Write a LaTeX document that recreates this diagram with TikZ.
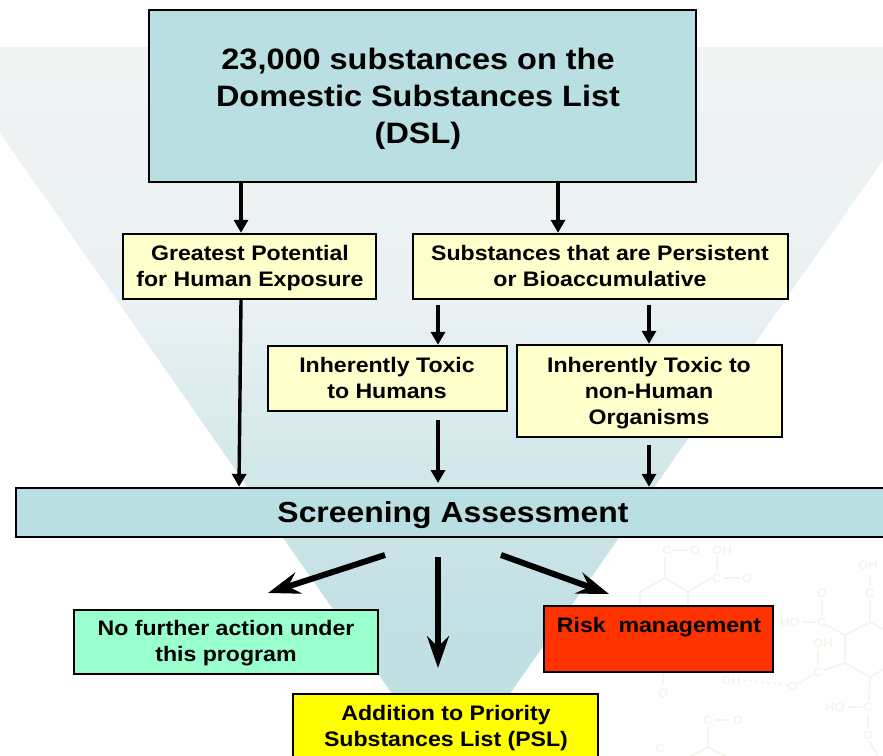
\documentclass[tikz,border=0pt]{standalone}
\usepackage{fontspec}
\setmainfont[FakeStretch=1.1]{Liberation Sans}
\usetikzlibrary{arrows.meta}
\definecolor{boxblue}{HTML}{B9DFE3}
\definecolor{boxyellow}{HTML}{FFFFCC}
\definecolor{boxgreen}{HTML}{99FFCC}
\definecolor{boxred}{HTML}{FF3300}
\definecolor{boxpsl}{HTML}{FFFF00}
\definecolor{fa}{HTML}{F1F3F3}
\definecolor{fb}{HTML}{EAF1F3}
\definecolor{fc}{HTML}{D1E7EA}
\definecolor{fd}{HTML}{C4E1E5}
\definecolor{fe}{HTML}{BBDEE2}
\definecolor{wm}{HTML}{F1F7EC}
\pgfdeclareverticalshading{funnelfade}{100bp}{color(0bp)=(fe); color(25bp)=(fe); color(37.2bp)=(fd); color(45.4bp)=(fc); color(57.7bp)=(fb); color(75bp)=(fa); color(100bp)=(fa)}
\tikzset{
  x=1pt,y=-1pt,
  boxframe/.style={draw=black,line width=2.4pt,inner sep=0pt},
  lab/.style={font=\fontsize{21}{26}\selectfont\bfseries,align=center,anchor=center,inner sep=0pt},
  thin arrow/.style={line width=3.4pt,-{Triangle[length=13pt,width=14pt]}},
  thick arrow/.style={line width=6pt,-{Stealth[length=32pt,width=22pt,inset=11pt]}},
  wmline/.style={draw=wm,line width=1.8pt},
  wmtext/.style={text=wm,font=\fontsize{12}{12}\selectfont\bfseries,inner sep=0pt}
}
\begin{document}
\begin{tikzpicture}
\useasboundingbox (0,0) rectangle (883,755);
\clip (0,0) rectangle (883,755);
% funnel
\shade[shading=funnelfade]
  (0,47) -- (883,47) -- (883,160) -- (451,778) -- (0,133) -- cycle;
% molecule watermark
\begin{scope}[wmline]
\draw (845,635) -- (870,622) -- (895,635);
\draw (845,635) -- (845,663) -- (870,677) -- (895,663);
\draw (870,622) -- (870,600);
\draw (870,586) -- (870,575);
\draw (845,635) -- (826,625);
\draw (802,622) -- (816,622);
\draw (822,615) -- (822,600);
\draw (845,663) -- (824,670);
\draw (818,665) -- (818,650);
\draw (812,675) -- (798,684);
\draw[dashed] (788,685) -- (742,680);
\draw (870,677) -- (869,700);
\draw (848,707) -- (862,707);
\draw (868,714) -- (868,728);
\draw (869,741) -- (878,755);
\draw (665,557) -- (665,578) -- (688,592) -- (711,578);
\draw (672,550) -- (688,550);
\draw (717,556) -- (717,571);
\draw (724,578) -- (740,578);
\draw (665,578) -- (640,592) -- (640,606);
\draw (688,592) -- (688,606);
\draw (663,660) -- (663,685);
\draw (715,720) -- (730,720);
\draw (708,727) -- (708,747) -- (683,760);
\draw (708,747) -- (733,760);
\end{scope}
\node[wmtext] (w1) at (868,565) {OH};
\node[wmtext] (w2) at (870,593) {C};
\node[wmtext] (w3) at (790,622) {HO};
\node[wmtext] (w4) at (822,622) {C};
\node[wmtext] (w5) at (822,593) {O};
\node[wmtext] (w6) at (823,643) {OH};
\node[wmtext] (w7) at (818,672) {C};
\node[wmtext] (w8) at (793,686) {O};
\node[wmtext] (w9) at (731,680) {OH};
\node[wmtext] (w10) at (835,707) {HO};
\node[wmtext] (w11) at (868,707) {C};
\node[wmtext] (w12) at (868,735) {O};
\node[wmtext] (w13) at (667,550) {C};
\node[wmtext] (w14) at (695,550) {O};
\node[wmtext] (w15) at (722,550) {OH};
\node[wmtext] (w16) at (717,578) {C};
\node[wmtext] (w17) at (747,578) {O};
\node[wmtext] (w18) at (663,693) {O};
\node[wmtext] (w19) at (708,720) {C};
\node[wmtext] (w20) at (738,720) {O};
\node[wmtext] (w21) at (660,748) {C};
% boxes
\node[boxframe,fill=boxblue,minimum width=547pt,minimum height=172pt] (dsl) at (422.5,96) {};
\node[boxframe,fill=boxyellow,minimum width=253pt,minimum height=65pt] (gpe) at (249.5,266.5) {};
\node[boxframe,fill=boxyellow,minimum width=375pt,minimum height=65pt] (pb) at (600.5,266.5) {};
\node[boxframe,fill=boxyellow,minimum width=239pt,minimum height=65pt] (th) at (387.5,378.5) {};
\node[boxframe,fill=boxyellow,minimum width=265pt,minimum height=92pt] (tn) at (649.5,391) {};
\node[boxframe,fill=boxblue,minimum width=870pt,minimum height=49pt] (sa) at (451,512.5) {};
\node[boxframe,fill=boxgreen,minimum width=304pt,minimum height=64pt] (nfa) at (226,642) {};
\node[boxframe,fill=boxred,minimum width=229pt,minimum height=66pt] (rm) at (658.5,639) {};
\node[boxframe,fill=boxpsl,minimum width=305pt,minimum height=76pt] (ps) at (445.5,732) {};
% texts
\node[font=\fontsize{29.5}{36.8}\selectfont\bfseries,align=center,inner sep=0pt] (dslt) at (418,99) {23,000 substances on the\\Domestic Substances List\\(DSL)};
\node[lab] (gpet) at (250,268.5) {Greatest Potential\\for Human Exposure};
\node[lab] (pbt) at (600,265.5) {Substances that are Persistent\\or Bioaccumulative};
\node[lab] (tht) at (387,377.5) {Inherently Toxic\\to Humans};
\node[lab] (tnt) at (649,393) {Inherently Toxic to\\non-Human\\Organisms};
\node[font=\fontsize{29}{35}\selectfont\bfseries,inner sep=0pt] (sat) at (453,515) {Screening Assessment};
\node[lab] (nfat) at (226,643.5) {No further action under\\this program};
\node[lab] (rmt) at (659,627) {Risk\ \ management};
\node[lab] (pst) at (446,728) {Addition to Priority\\Substances List (PSL)};
% connectors
\coordinate (a1) at (241,0);
\coordinate (a2) at (558,0);
\coordinate (a3) at (239,0);
\coordinate (a4) at (438,0);
\coordinate (a5) at (649,0);
\draw[thin arrow] (dsl.south -| a1) -- (gpe.north -| a1);
\draw[thin arrow] (dsl.south -| a2) -- (pb.north -| a2);
\draw[thin arrow] (gpe.south -| a1) -- (sa.north -| a3);
\coordinate (s4) at (438,305);
\coordinate (s5) at (649,305);
\coordinate (s6) at (438,420);
\coordinate (s7) at (649,445);
\draw[thin arrow] (s4) -- (th.north -| a4);
\draw[thin arrow] (s5) -- (tn.north -| a5);
\coordinate (e6) at (438,483);
\draw[thin arrow] (s6) -- (e6);
\draw[thin arrow] (s7) -- (sa.north -| a5);
\coordinate (t1) at (385,555);
\coordinate (h1) at (268,593);
\coordinate (t2) at (438,557);
\coordinate (h2) at (438,668);
\coordinate (t3) at (501,555);
\coordinate (h3) at (609,594);
\draw[thick arrow] (t1) -- (h1);
\draw[thick arrow] (t2) -- (h2);
\draw[thick arrow] (t3) -- (h3);
\end{tikzpicture}
\end{document}
